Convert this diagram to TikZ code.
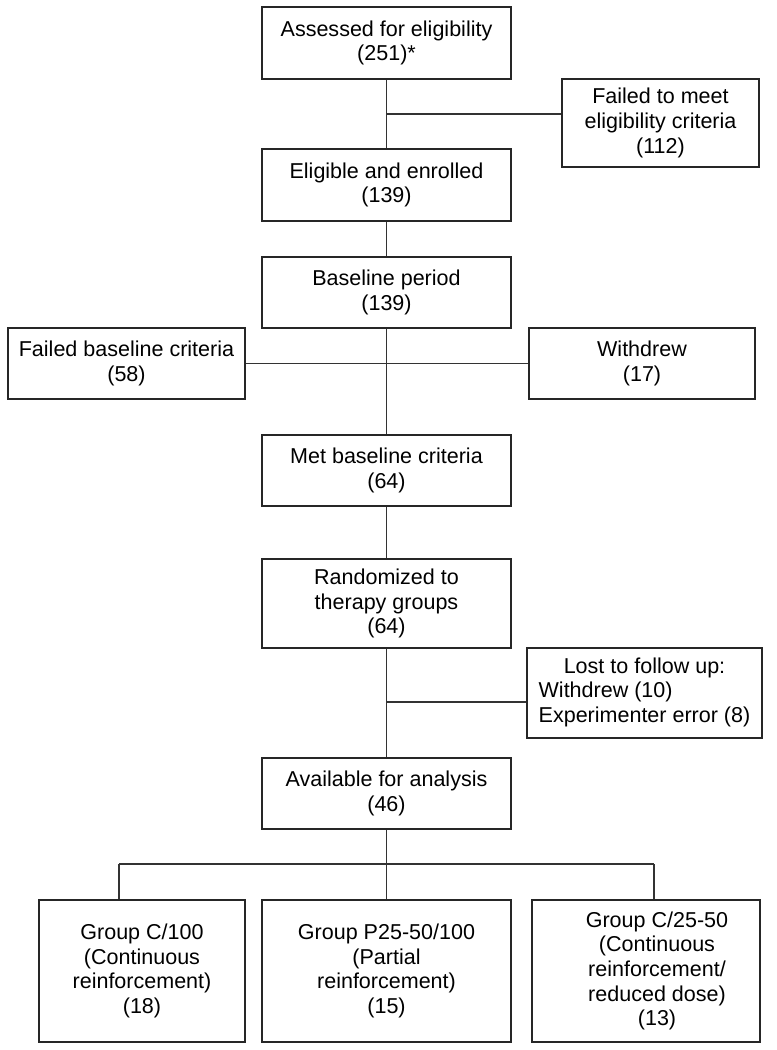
\documentclass[tikz,border=0pt]{standalone}
\usepackage{fontspec}
\setmainfont{Liberation Sans}
\begin{document}
\begin{tikzpicture}[x=1bp,y=-1bp,
  box/.style={draw=black!85, line width=1.5bp, inner sep=0pt, align=center,
    font=\fontsize{21.6}{24.8}\selectfont},
  txt/.style={inner sep=0pt, align=center, font=\fontsize{21.6}{24.8}\selectfont},
  conn/.style={draw=black!80, line width=1.5bp}]
\useasboundingbox (0,0) rectangle (777,1050);
% central column
\node[box, minimum width=249bp, minimum height=72bp] (assess) at (386.5,43) {Assessed for eligibility\\(251)*};
\node[box, minimum width=197bp, minimum height=88bp] (failelig) at (660.5,123) {Failed to meet\\eligibility criteria\\(112)};
\node[box, minimum width=249bp, minimum height=72bp] (enrol) at (386.5,185) {Eligible and enrolled\\(139)};
\node[box, minimum width=249bp, minimum height=71bp] (base) at (386.5,292.5) {Baseline period\\(139)};
\node[box, minimum width=237bp, minimum height=71bp] (failbase) at (126.5,363.5) {Failed baseline criteria\\(58)};
\node[box, minimum width=226bp, minimum height=71bp] (withdrew) at (642,363.5) {Withdrew\\(17)};
\node[box, minimum width=249bp, minimum height=71bp] (met) at (386.5,470.5) {Met baseline criteria\\(64)};
\node[box, minimum width=249bp, minimum height=89bp] (rand) at (386.5,603.5) {Randomized to\\therapy groups\\(64)};
\node[box, minimum width=235bp, minimum height=90bp] (lost) at (644.5,693) {\begin{tabular}{@{}l@{}}\multicolumn{1}{@{}c@{}}{Lost to follow up:}\\Withdrew (10)\\Experimenter error (8)\end{tabular}};
\node[box, minimum width=249bp, minimum height=71bp] (avail) at (386.5,793.5) {Available for analysis\\(46)};
% groups
\node[box, minimum width=206bp, minimum height=142bp] (g1) at (142,971) {Group C/100\\(Continuous\\reinforcement)\\(18)};
\node[box, minimum width=249bp, minimum height=142bp] (g2) at (386.5,971) {Group P25-50/100\\(Partial\\reinforcement)\\(15)};
\node[box, minimum width=228bp, minimum height=142bp] (g3) at (646,971) {};
\node[txt] (g3t) at (657,971) {Group C/25-50\\(Continuous\\reinforcement/\\reduced dose)\\(13)};
% connectors
\coordinate (j1) at (386.5,114);
\coordinate (j2) at (386.5,702);
\coordinate (j3) at (386.5,864);
\coordinate (jl) at (119,864);
\coordinate (jr) at (654,864);
\draw[conn] (assess.south) -- (enrol.north);
\draw[conn] (j1) -- (j1 -| failelig.west);
\draw[conn] (enrol.south) -- (base.north);
\draw[conn] (base.south) -- (met.north);
\draw[conn] (failbase.east) -- (withdrew.west);
\draw[conn] (met.south) -- (rand.north);
\draw[conn] (rand.south) -- (avail.north);
\draw[conn] (j2) -- (j2 -| lost.west);
\draw[conn] (avail.south) -- (g2.north);
\draw[conn] (jl) -- (jr);
\draw[conn] (jl) -- (jl |- g1.north);
\draw[conn] (jr) -- (jr |- g3.north);
\end{tikzpicture}
\end{document}
